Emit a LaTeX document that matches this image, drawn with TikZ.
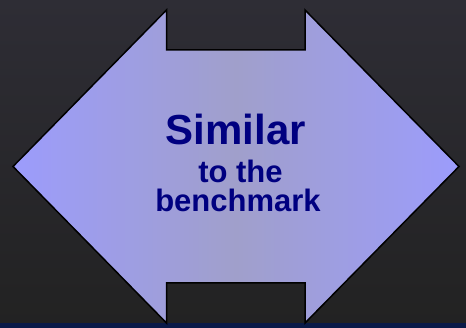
\documentclass[tikz,border=0pt]{standalone}
\usepackage{fontspec}
\setmainfont{Liberation Sans}
\definecolor{bgtop}{HTML}{2E2D35}
\definecolor{bgbot}{HTML}{222222}
\definecolor{strip}{HTML}{0A1A48}
\definecolor{tipcol}{HTML}{9C9CFC}
\definecolor{midcol}{HTML}{A09FCB}
\definecolor{textcol}{HTML}{000080}
\newcommand{\headsize}{\fontsize{42}{44}\selectfont}
\newcommand{\subsize}{\fontsize{31}{29}\selectfont}

\begin{document}
\begin{tikzpicture}[x=1pt,y=-1pt,
        arrowbox/.style={draw=black, line width=1.5pt, line join=miter,
            left color=tipcol, right color=tipcol, middle color=midcol},
        label/.style={text=textcol, font=\bfseries, inner sep=0pt, anchor=base}]
        % background
        \shade[top color=bgtop, bottom color=bgbot] (0,0) rectangle (466,328);
        \fill[strip] (0,323) rectangle (466,328);
        \useasboundingbox (0,0) rectangle (466,328);
        % double arrow
        \draw[arrowbox] (13,166.5) -- (166.5,10) -- (166.5,50) -- (305,50)
            -- (305,10) -- (459,166.5) -- (305,323) -- (305,283)
            -- (166.5,283) -- (166.5,323) -- cycle;
        \node[label] (similar) at (236,145) {\headsize Similar};
        \node[label] (tothe) at (240.5,183) {\subsize to the};
        \node[label] (bench) at (238,212) {\subsize benchmark};
    \end{tikzpicture}
\end{document}
